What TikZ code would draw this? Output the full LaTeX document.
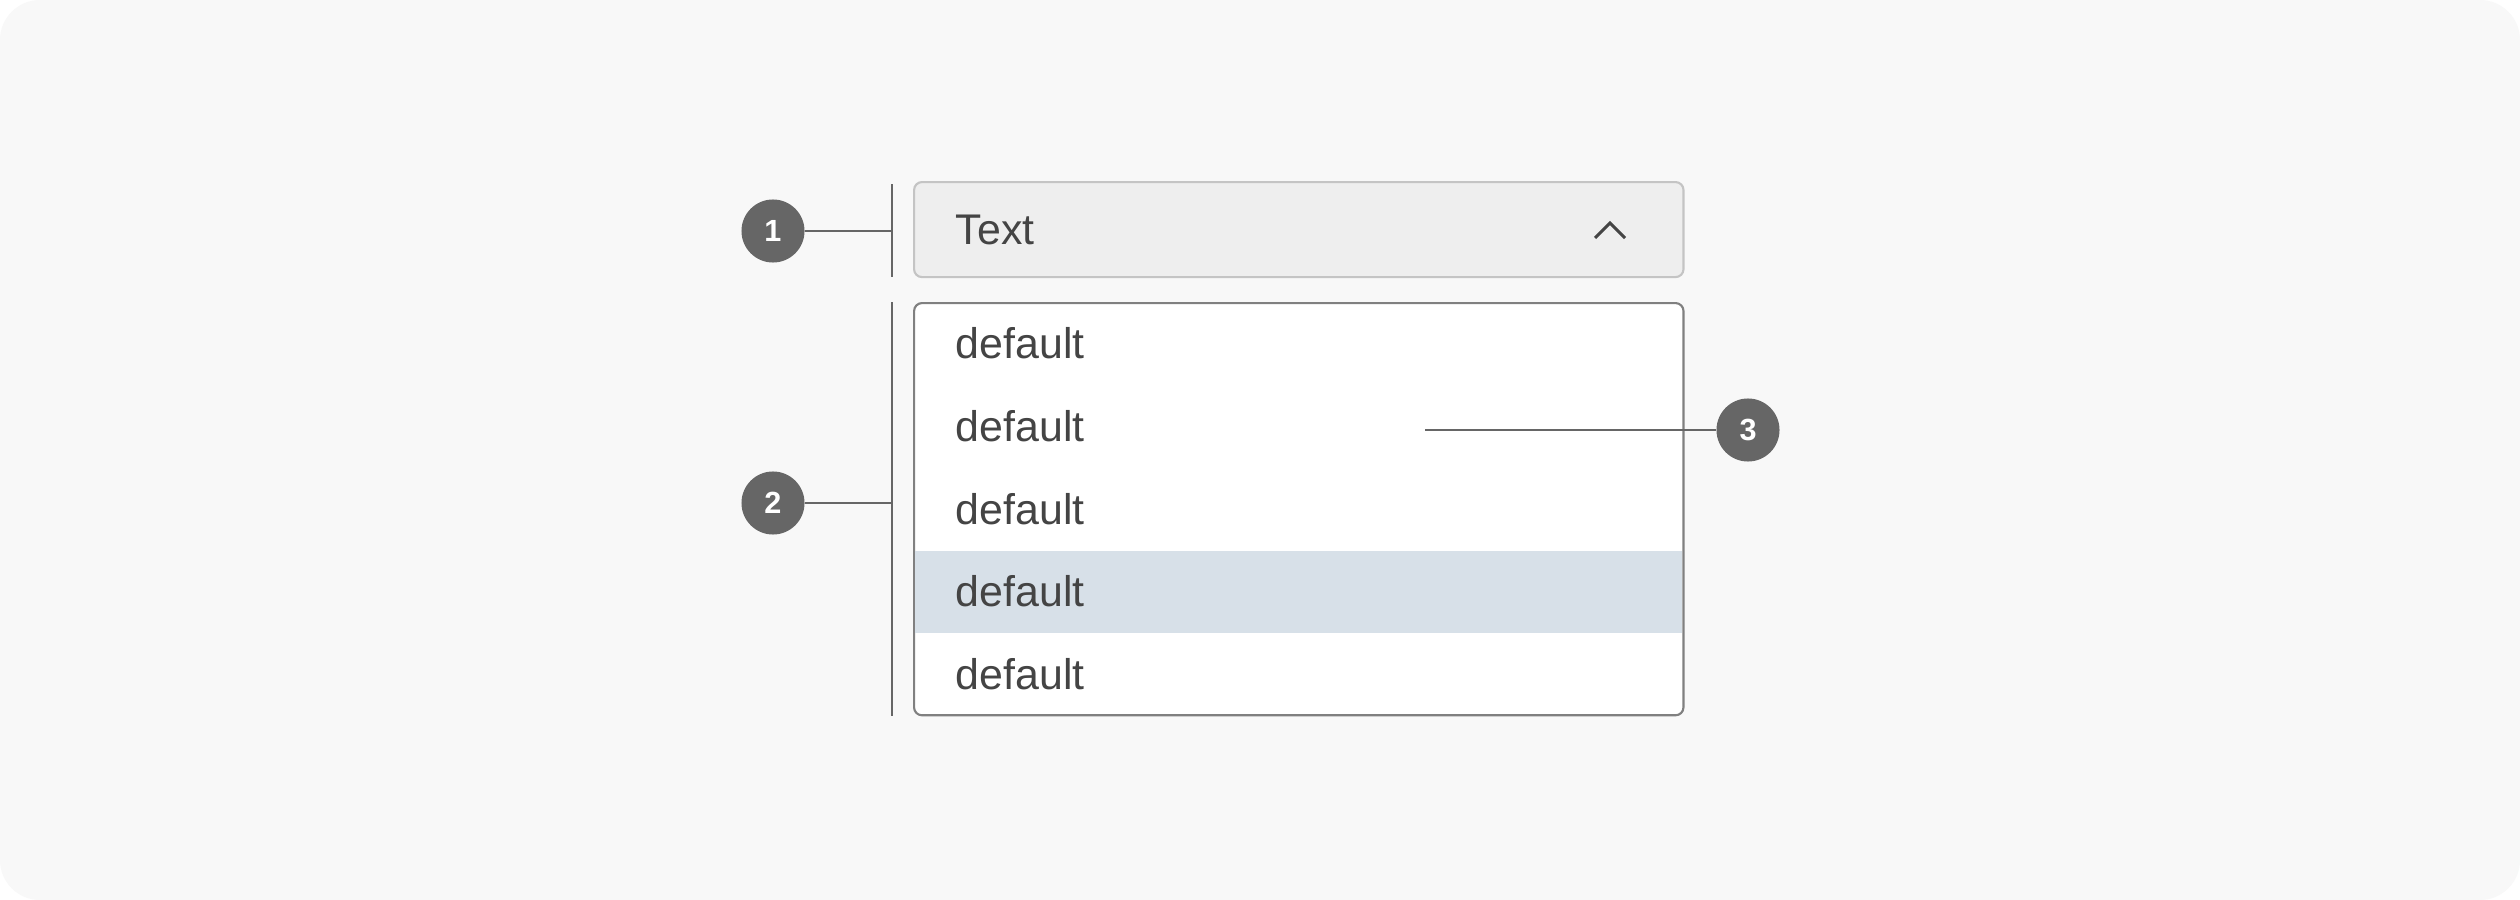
\documentclass[tikz,border=0pt]{standalone}
\usepackage{fontspec}
\setmainfont{Liberation Sans}
\usepackage{tikz}
\usetikzlibrary{positioning,calc}
\definecolor{canvas}{HTML}{F8F8F8}
\definecolor{fieldfill}{HTML}{EEEEEE}
\definecolor{fieldline}{HTML}{C4C4C4}
\definecolor{listline}{HTML}{808080}
\definecolor{hoverfill}{HTML}{D7E0E8}
\definecolor{inktext}{HTML}{444444}
\definecolor{markgray}{HTML}{666666}

\begin{document}
\begin{tikzpicture}[x=0.01cm, y=-0.01cm, font=\fontsize{12.2}{14}\selectfont,
  fieldbox/.style={draw=fieldline, fill=fieldfill, line width=0.6pt, rounded corners=0.08cm, minimum width=7.69cm, minimum height=0.95cm, inner sep=0pt},
  listbox/.style={draw=listline, fill=white, line width=0.6pt, rounded corners=0.08cm, minimum width=7.69cm, minimum height=4.12cm, inner sep=0pt},
  hoverrow/.style={fill=hoverfill, minimum width=7.67cm, minimum height=0.826cm, inner sep=0pt},
  itemtext/.style={text=inktext, anchor=base west, inner sep=0pt},
  badge/.style={circle, fill=markgray, text=white, minimum size=0.63cm, inner sep=0pt, font=\fontsize{8.7}{10}\selectfont\bfseries},
  leader/.style={draw=markgray, line width=0.6pt},
  bracket/.style={draw=markgray, line width=0.8pt}]
\useasboundingbox (0,0) rectangle (2520,900);
\fill[white] (0,0) rectangle (2520,900);
\fill[canvas, rounded corners=0.4cm] (0,0) rectangle (2520,900);
\node[fieldbox, anchor=north west] (field) at (913,181) {};
\node[itemtext] (fieldtext) at (955,244) {Text};
\draw[inktext, line width=0.85pt] (1595,238) -- (1610,223) -- (1625,238);
\node[listbox, anchor=north west] (list) at (913,302) {};
\node[hoverrow, anchor=north west] (hover) at (914,550) {};
\node[itemtext] (item1) at (955,358) {default};
\node[itemtext] (item2) at (955,441) {default};
\node[itemtext] (item3) at (955,524) {default};
\node[itemtext] (item4) at (955,606) {default};
\node[itemtext] (item5) at (955,689) {default};
\coordinate (b1top) at (892,184);
\coordinate (b1bot) at (892,277);
\coordinate (b2top) at (892,302);
\coordinate (b2bot) at (892,716);
\draw[bracket] (b1top) -- (b1bot);
\draw[bracket] (b2top) -- (b2bot);
\node[badge] (m1) at (773,231) {1};
\draw[leader] (m1) -- (m1 -| b1top);
\node[badge] (m2) at (773,503) {2};
\draw[leader] (m2) -- (m2 -| b2top);
\node[badge] (m3) at (1748,430) {3};
\coordinate (p3) at (1425,430);
\draw[leader] (p3) -- (m3);
\end{tikzpicture}
\end{document}
